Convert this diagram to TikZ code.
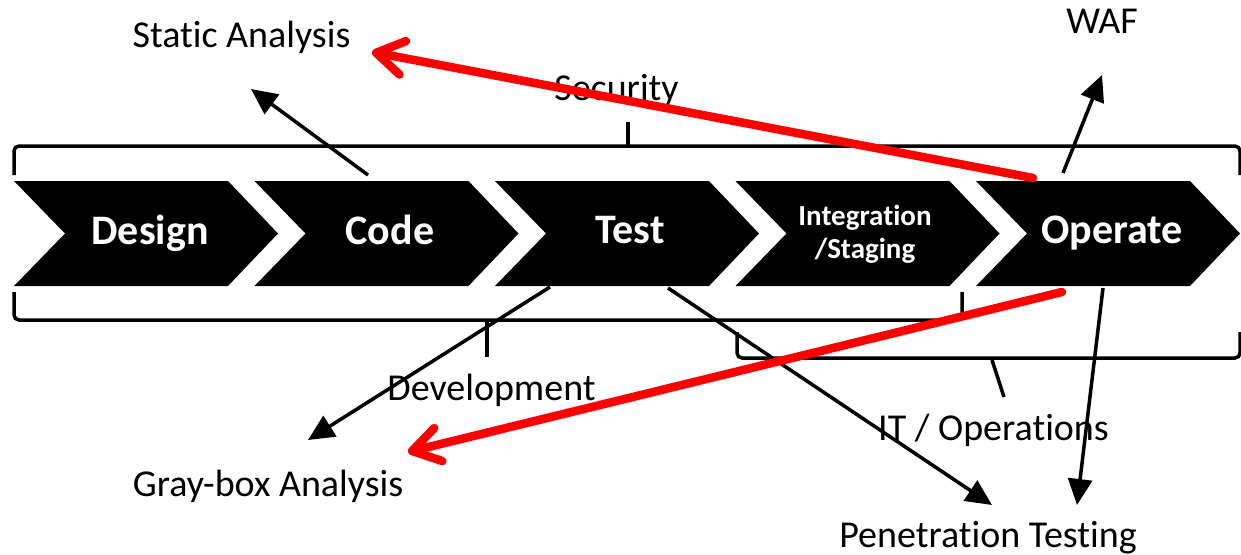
\documentclass[tikz,border=0pt]{standalone}
\usepackage{fontspec}
\setmainfont{Carlito}[Ligatures=NoCommon]
\usetikzlibrary{arrows.meta}
\begin{document}
\begin{tikzpicture}[x=1pt,y=-1pt,
  chevtext/.style={text=white,font=\bfseries\fontsize{42}{44}\selectfont,anchor=base,inner sep=0pt},
  lbl/.style={font=\fontsize{38}{40}\selectfont,anchor=base,inner sep=0pt},
  bracket/.style={line width=3.5pt,rounded corners=5pt},
  tick/.style={line width=3.5pt},
  blk/.style={line width=3.5pt,-{Triangle[length=26pt,width=24pt]}},
  redarr/.style={draw=red,line width=8.5pt,line cap=round,
    -{Straight Barb[length=27pt,width=34pt,line cap=round,line join=round]}}]
\useasboundingbox (0,0) rectangle (1241,554);

% process chevrons
\foreach \i in {0,...,4}{
  \pgfmathsetmacro{\xa}{14+240.5*\i}
  \fill (\xa,181) -- ({\xa+214},181) -- ({\xa+264},233.5) -- ({\xa+214},286)
        -- (\xa,286) -- ({\xa+51},233.5) -- cycle;
}
\node[chevtext] (design) at (150,244) {Design};
\node[chevtext] (code) at (390,244) {Code};
\node[chevtext] (test) at (630,243) {Test};
\node[text=white,font=\bfseries\fontsize{29}{33}\selectfont,align=center,inner sep=0pt]
  (integ) at (865,234) {Integration\\/Staging};
\node[chevtext] (operate) at (1112,243) {Operate};

% Security bracket
\draw[bracket] (14,175) -- (14,146) -- (1240,146) -- (1240,175);
\draw[tick] (628,146) -- (628,122);
\node[lbl] (security) at (616.5,100) {Security};

% Development bracket
\draw[bracket] (14,292) -- (14,320) -- (962,320) -- (962,292);
\draw[tick] (487,320) -- (487,357);
\node[lbl] (development) at (491.5,400) {Development};

% IT / Operations bracket
\draw[bracket] (737,332) -- (737,358) -- (1240,358) -- (1240,332);
\draw[tick] (992,360) -- (1004,397);
\node[lbl] (itops) at (993.5,440) {IT / Operations};

% activity labels
\node[lbl] (static) at (241.5,47) {Static Analysis};
\node[lbl] (waf) at (1102,33) {WAF};
\node[lbl] (graybox) at (268,496) {Gray-box Analysis};
\node[lbl] (pentest) at (988,547) {Penetration Testing};

% connector end points
\coordinate (codeTop) at (368,175);
\coordinate (staticIn) at (251,89);
\coordinate (opTopL) at (1033,178);
\coordinate (staticRed) at (372,52);
\coordinate (opTopR) at (1063,173);
\coordinate (wafIn) at (1102,75);
\coordinate (testBotL) at (550,287);
\coordinate (grayIn) at (308,440);
\coordinate (opBotL) at (1062,292);
\coordinate (grayRed) at (408,452);
\coordinate (testBotR) at (668,288);
\coordinate (penIn) at (992,505);
\coordinate (opBotR) at (1103,288);
\coordinate (penIn2) at (1077,505);

% black connectors
\draw[blk] (codeTop) -- (staticIn);
\draw[blk] (opTopR) -- (wafIn);
\draw[blk] (testBotL) -- (grayIn);
\draw[blk] (testBotR) -- (penIn);
\draw[blk] (opBotR) -- (penIn2);

% red connectors
\draw[redarr] (opTopL) -- (staticRed);
\draw[redarr] (opBotL) -- (grayRed);
\end{tikzpicture}
\end{document}
